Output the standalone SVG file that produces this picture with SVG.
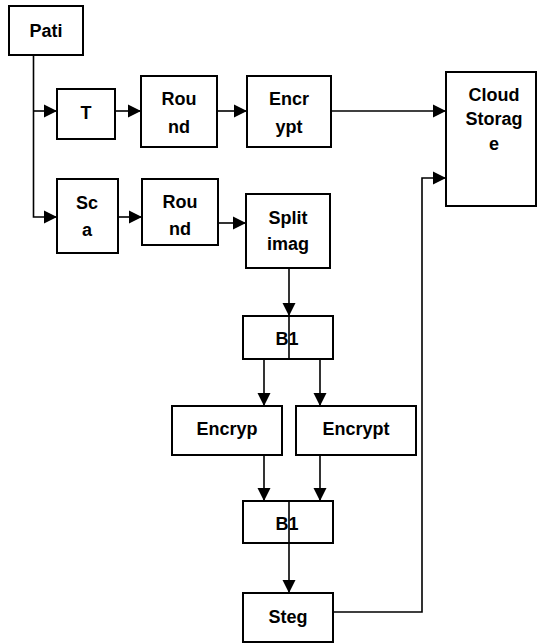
<svg xmlns="http://www.w3.org/2000/svg" width="539" height="643" viewBox="0 0 539 643">
<defs>
<style>
.box{fill:#fff;stroke:#000;stroke-width:2}
.t{font-family:"Liberation Sans",Arial,sans-serif;font-weight:bold;font-size:18px;fill:#000;text-anchor:middle}
.c{fill:none;stroke:#000;stroke-width:1.6}
</style>
<marker id="ah" markerUnits="userSpaceOnUse" markerWidth="14" markerHeight="14" viewBox="0 0 14 14" refX="13" refY="7" orient="auto">
<path d="M0,0.5 L13,7 L0,13.5 Z" fill="#000"/>
</marker>
</defs>
<rect width="539" height="643" fill="#fff"/>
<g id="connectors">
<path class="c" d="M33.5,55 V217 H57" marker-end="url(#ah)"/>
<path class="c" d="M33.5,111 H57" marker-end="url(#ah)"/>
<path class="c" d="M115,111 H141" marker-end="url(#ah)"/>
<path class="c" d="M217,111 H247" marker-end="url(#ah)"/>
<path class="c" d="M331,111 H446" marker-end="url(#ah)"/>
<path class="c" d="M118,217 H142" marker-end="url(#ah)"/>
<path class="c" d="M218,223 H246" marker-end="url(#ah)"/>
<path class="c" d="M289,268 V316" marker-end="url(#ah)"/>
<path class="c" d="M264,359 V406" marker-end="url(#ah)"/>
<path class="c" d="M320,359 V406" marker-end="url(#ah)"/>
<path class="c" d="M264,455 V501" marker-end="url(#ah)"/>
<path class="c" d="M320,455 V501" marker-end="url(#ah)"/>
<path class="c" d="M289,543 V593" marker-end="url(#ah)"/>
<path class="c" d="M333,612 H422 V178 H446" marker-end="url(#ah)"/>
</g>
<g id="pati"><rect class="box" x="9" y="6" width="74" height="49"/><text class="t" x="46" y="37">Pati</text></g>
<g id="t"><rect class="box" x="57" y="89" width="58" height="50"/><text class="t" x="86" y="119">T</text></g>
<g id="round1"><rect class="box" x="141" y="76" width="76" height="71"/><text class="t" x="179" y="105">Rou</text><text class="t" x="179" y="133">nd</text></g>
<g id="encrypt1"><rect class="box" x="247" y="76" width="84" height="71"/><text class="t" x="289" y="105">Encr</text><text class="t" x="289" y="133">ypt</text></g>
<g id="cloud"><rect class="box" x="446" y="72" width="90" height="134"/><text class="t" x="494" y="101">Cloud</text><text class="t" x="494" y="125">Storag</text><text class="t" x="494" y="150">e</text></g>
<g id="sca"><rect class="box" x="57" y="179" width="61" height="74"/><text class="t" x="87" y="209">Sc</text><text class="t" x="87" y="236">a</text></g>
<g id="round2"><rect class="box" x="142" y="179" width="76" height="66"/><text class="t" x="180" y="208">Rou</text><text class="t" x="180" y="235">nd</text></g>
<g id="split"><rect class="box" x="246" y="194" width="84" height="74"/><text class="t" x="288" y="224">Split</text><text class="t" x="288" y="250">imag</text></g>
<g id="b1a"><rect class="box" x="243" y="316" width="90" height="43"/><text class="t" x="287" y="345">B1</text><path class="c" d="M289,316 V359"/></g>
<g id="encryp"><rect class="box" x="172" y="406" width="110" height="49"/><text class="t" x="227" y="435">Encryp</text></g>
<g id="encrypt2"><rect class="box" x="296" y="406" width="120" height="49"/><text class="t" x="356" y="435">Encrypt</text></g>
<g id="b1b"><rect class="box" x="243" y="501" width="90" height="42"/><text class="t" x="287" y="530">B1</text><path class="c" d="M289,501 V543"/></g>
<g id="steg"><rect class="box" x="243" y="593" width="90" height="49"/><text class="t" x="288" y="623">Steg</text></g>
</svg>
